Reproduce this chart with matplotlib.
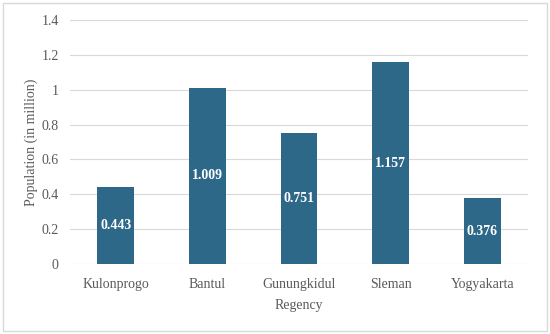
import matplotlib
matplotlib.use('Agg')
import matplotlib.pyplot as plt
from matplotlib.patches import Rectangle

# Population per regency (million)
regencies = ['Kulonprogo', 'Bantul', 'Gunungkidul', 'Sleman', 'Yogyakarta']
population = [0.443, 1.009, 0.751, 1.157, 0.376]
yticks = [0, 0.2, 0.4, 0.6, 0.8, 1.0, 1.2, 1.4]
ytick_labels = ['0', '0.2', '0.4', '0.6', '0.8', '1', '1.2', '1.4']

plt.rcParams['font.family'] = ['Liberation Serif', 'DejaVu Serif']

fig = plt.figure(figsize=(5.5, 3.34), dpi=100)
ax = fig.add_axes([0.127, 0.21, 0.833, 0.73])

bar_color = '#2D6888'
text_gray = '#595959'

bars = ax.bar(range(len(regencies)), population, width=0.4, color=bar_color, zorder=3)
for rect, val in zip(bars, population):
    ax.text(rect.get_x() + rect.get_width() / 2, val / 2, f'{val:.3f}',
            ha='center', va='center', color='white', fontsize=10, fontweight='bold', zorder=4)

ax.set_xlim(-0.5, len(regencies) - 0.5)
ax.set_ylim(0, 1.4)
ax.set_yticks(yticks)
ax.set_yticklabels(ytick_labels)
ax.set_xticks(range(len(regencies)))
ax.set_xticklabels(regencies)
ax.tick_params(axis='both', length=0, colors=text_gray, labelsize=10)
ax.tick_params(axis='y', pad=8)
ax.tick_params(axis='x', pad=10)

ax.grid(axis='y', color='#D9D9D9', linewidth=0.8, zorder=0)
for s in ax.spines.values():
    s.set_visible(False)

ax.set_xlabel('Regency', color=text_gray, fontsize=10)
ax.set_ylabel('Population (in million)', color=text_gray, fontsize=10)
ax.xaxis.set_label_coords(0.5, -0.145)
ax.yaxis.set_label_coords(-0.07, 0.5)

# light frame around the whole chart
fig.patches.append(Rectangle((0.006, 0.01), 0.988, 0.98, transform=fig.transFigure,
                             fill=False, edgecolor='#D9D9D9', linewidth=1))

fig.savefig('out.png', dpi=100)
